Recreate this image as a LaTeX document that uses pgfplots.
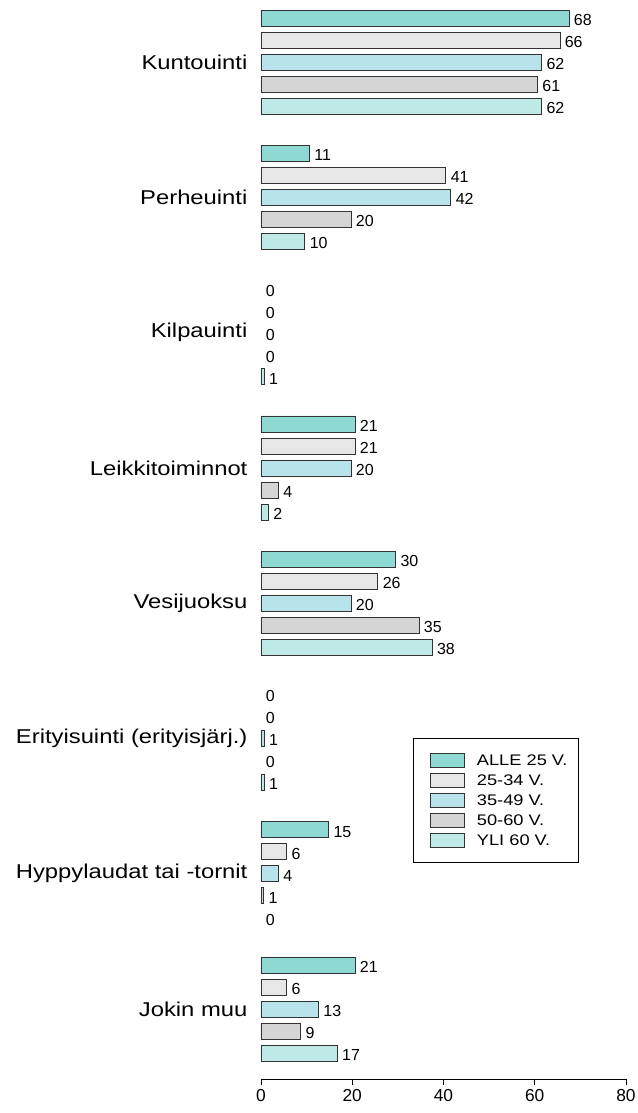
\documentclass[border=0pt]{standalone}
\usepackage{fontspec}
\setmainfont{Liberation Sans}
\newfontfamily\stretchfont{Liberation Sans}[FakeStretch=1.19]
\usepackage{pgfplots}
\pgfplotsset{compat=1.18}
\definecolor{cA}{HTML}{8ED9D4}
\definecolor{cB}{HTML}{E7E7E7}
\definecolor{cC}{HTML}{B9E3EA}
\definecolor{cD}{HTML}{D5D5D5}
\definecolor{cE}{HTML}{BFE9E5}
\begin{document}
\begin{tikzpicture}
\useasboundingbox (-195.75pt,-25.5pt) rectangle (282pt,809.25pt);
\begin{axis}[
  at={(0pt,0pt)}, anchor=south west,
  scale only axis,
  width=273.75pt, height=809.25pt,
  xmin=0, xmax=80,
  ymin=-0.459, ymax=7.518,
  y dir=reverse,
  axis x line=bottom,
  axis y line=left,
  axis line style={-, line width=0.6pt},
  y axis line style={draw=none},
  ytick style={draw=none},
  xtick={0,20,40,60,80},
  xtick style={draw=black, line width=0.6pt},
  tick align=outside,
  major tick length=4.5pt,
  ytick={0,...,7},
  yticklabels={Kuntouinti, Perheuinti, Kilpauinti, Leikkitoiminnot, Vesijuoksu, Erityisuinti (erityisjärj.), Hyppylaudat tai -tornit, Jokin muu},
  yticklabel style={font=\stretchfont\fontsize{15}{18}\selectfont, anchor=east, inner sep=0pt, xshift=-5.5pt},
  xticklabel style={font=\fontsize{13}{13}\selectfont, inner sep=0pt, yshift=-3pt},
  /pgf/number format/assume math mode=true,
  clip=false,
  mybar/.style 2 args={xbar, bar width=12pt, bar shift=#2, draw=black!80, line width=0.5pt, fill=#1,
    point meta=explicit symbolic, nodes near coords,
    every node near coord/.append style={font=\fontsize{12}{12}\selectfont, anchor=west, inner sep=0pt, xshift=3.5pt, yshift=#2-1.5pt, text=black}},
  legend image code/.code={\path (0pt,0pt); \draw[#1] (4.5pt,-5.25pt) rectangle (30pt,5.25pt);},
  legend style={at={(axis cs:33.3,5.0)}, anchor=north west, draw=black, line width=0.5pt,
    font=\stretchfont\fontsize{11.5}{13}\selectfont,
    inner xsep=8.25pt, inner ysep=9pt, row sep=0pt, column sep=9pt,
    nodes={inner xsep=0pt, inner ysep=1.75pt, text height=9pt, text depth=2.5pt}},
  legend cell align=left,
]
\addplot[mybar={cA}{33pt}] coordinates {(67.5,0) [68] (10.6,1) [11] (nan,2) [0] (20.6,3) [21] (29.5,4) [30] (nan,5) [0] (14.8,6) [15] (20.6,7) [21]};
\addlegendentry{ALLE 25 V.}
\addplot[mybar={cB}{16.5pt}] coordinates {(65.5,0) [66] (40.5,1) [41] (nan,2) [0] (20.6,3) [21] (25.6,4) [26] (nan,5) [0] (5.6,6) [6] (5.6,7) [6]};
\addlegendentry{25-34 V.}
\addplot[mybar={cC}{0pt}] coordinates {(61.5,0) [62] (41.6,1) [42] (nan,2) [0] (19.7,3) [20] (19.7,4) [20] (0.7,5) [1] (3.8,6) [4] (12.6,7) [13]};
\addlegendentry{35-49 V.}
\addplot[mybar={cD}{-16.5pt}] coordinates {(60.6,0) [61] (19.7,1) [20] (nan,2) [0] (3.8,3) [4] (34.6,4) [35] (nan,5) [0] (0.6,6) [1] (8.7,7) [9]};
\addlegendentry{50-60 V.}
\addplot[mybar={cE}{-33pt}] coordinates {(61.5,0) [62] (9.6,1) [10] (0.7,2) [1] (1.6,3) [2] (37.5,4) [38] (0.7,5) [1] (nan,6) [0] (16.7,7) [17]};
\addlegendentry{YLI 60 V.}
% zero-valued bars: labels only
\addplot[forget plot, only marks, mark=none, nodes near coords, point meta=explicit symbolic,
  every node near coord/.append style={font=\fontsize{12}{12}\selectfont, anchor=west, inner sep=0pt, xshift=3.5pt, yshift=-1.5pt, text=black}]
  coordinates {(0,1.674) [0] (0,1.837) [0] (0,2.0) [0] (0,2.163) [0] (0,4.674) [0] (0,4.837) [0] (0,5.163) [0] (0,6.326) [0]};
\end{axis}
\end{tikzpicture}
\end{document}
